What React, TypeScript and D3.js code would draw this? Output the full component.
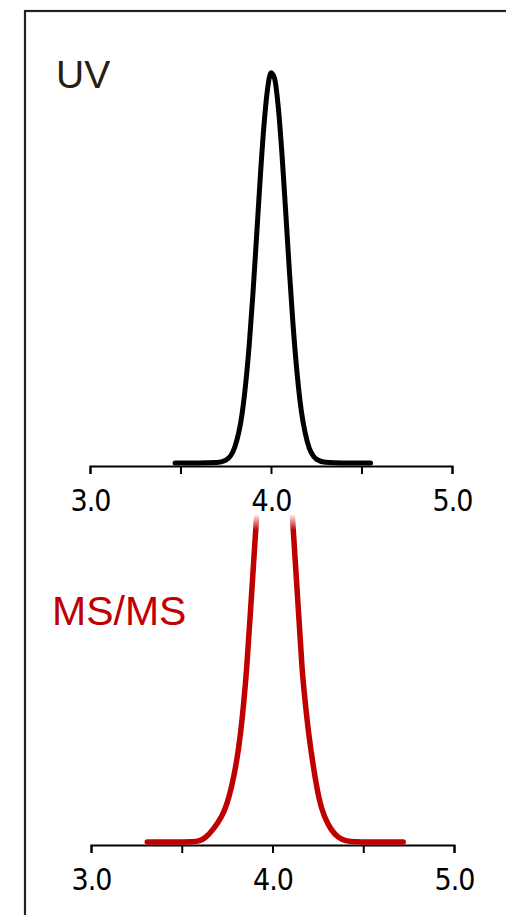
import { useEffect, useRef } from "react";
import * as d3 from "d3";

// retention time (min) and relative intensity (%)
const uvTime = [3.47, 3.6, 3.7, 3.75, 3.8, 3.84, 3.88, 3.9, 3.92, 3.94, 3.96, 3.98, 4.0, 4.02, 4.04, 4.06, 4.08, 4.1, 4.12, 4.16, 4.2, 4.25, 4.3, 4.4, 4.55];
const uvValue = [0, 0, 0.1, 0.7, 4.1, 12.5, 30.4, 43.2, 57.7, 72.5, 85.7, 95.3, 99.8, 98.3, 91.1, 79.4, 65.1, 50.3, 36.5, 16.0, 5.5, 1.0, 0.2, 0, 0];

const msTime = [3.31, 3.5, 3.56, 3.6, 3.63, 3.672, 3.722, 3.758, 3.799, 3.825, 3.843, 3.857, 3.876, 3.909, 3.956, 3.984, 4.011, 4.039, 4.066, 4.113, 4.146, 4.163, 4.179, 4.198, 4.225, 4.256, 4.285, 4.322, 4.364, 4.4, 4.46, 4.52, 4.72];
const msValue = [0, 0, 0, 0.2, 0.8, 2.4, 5.0, 8.3, 14.9, 21.7, 28.2, 34, 44, 64, 85, 96, 100, 96, 85, 64, 44, 34, 28.2, 21.7, 14.9, 8.3, 5.0, 2.4, 0.8, 0.2, 0, 0, 0];

const tickValues = [3.0, 3.5, 4.0, 4.5, 5.0];
const tickLabels = ["3.0", "", "4.0", "", "5.0"];

const W = 506;
const H = 915;

function App() {
  const topAxisRef = useRef<SVGGElement>(null);
  const botAxisRef = useRef<SVGGElement>(null);

  const xTop = d3.scaleLinear().domain([3, 5]).range([90, 452]);
  const xBot = d3.scaleLinear().domain([3, 5]).range([91, 454]);
  const yUV = d3.scaleLinear().domain([0, 100]).range([463, 72]);
  const yMS = d3.scaleLinear().domain([0, 100]).range([842, 339]);

  const uvLine = d3
    .line<number>()
    .x((_, i) => xTop(uvTime[i]))
    .y((d) => yUV(d))
    .curve(d3.curveMonotoneX);

  const msLine = d3
    .line<number>()
    .x((_, i) => xBot(msTime[i]))
    .y((d) => yMS(d))
    .curve(d3.curveBasis);

  useEffect(() => {
    const draw = (el: SVGGElement | null, x: d3.ScaleLinear<number, number>) => {
      if (!el) return;
      const g = d3.select(el);
      g.selectAll("*").remove();
      g.call(
        d3
          .axisBottom(x)
          .tickValues(tickValues)
          .tickFormat((_, i) => tickLabels[i])
          .tickSize(8)
          .tickSizeOuter(8)
      );
      g.select(".domain").attr("stroke", "#000").attr("stroke-width", 2);
      g.selectAll(".tick line").attr("stroke", "#000").attr("stroke-width", 2);
      g.selectAll(".tick text")
        .attr("y", 45)
        .attr("dy", 0)
        .attr("fill", "#000")
        .style("font-family", "'DejaVu Sans Condensed', 'DejaVu Sans', sans-serif")
        .style("font-stretch", "condensed")
        .style("letter-spacing", "-1px")
        .style("font-size", "30px");
    };
    draw(topAxisRef.current, xTop);
    draw(botAxisRef.current, xBot);
  }, []);

  return (
    <svg
      width={W}
      height={H}
      style={{ position: "absolute", left: 0, top: 0, background: "#fff" }}
    >
      <defs>
        <clipPath id="msClip">
          <rect x={0} y={514} width={W} height={H - 514} />
        </clipPath>
        <linearGradient id="fade" x1="0" y1="0" x2="0" y2="1">
          <stop offset="0" stopColor="#fff" stopOpacity={1} />
          <stop offset="1" stopColor="#fff" stopOpacity={0} />
        </linearGradient>
      </defs>

      <rect x={25} y={11} width={W + 20} height={H + 20} fill="none" stroke="#222" strokeWidth={2.2} />

      <text x={56} y={88} fontFamily="'Liberation Sans', Arial, sans-serif" fontSize={39} fill="#2b1d0e">
        UV
      </text>
      <text x={52} y={625} fontFamily="'Liberation Sans', Arial, sans-serif" fontSize={41} fill="#c00000">
        MS/MS
      </text>

      <g ref={topAxisRef} transform="translate(0,466)" />
      <path d={uvLine(uvValue) ?? ""} fill="none" stroke="#000" strokeWidth={5} strokeLinecap="round" strokeLinejoin="round" />

      <g ref={botAxisRef} transform="translate(0,845)" />
      <g clipPath="url(#msClip)">
        <path d={msLine(msValue) ?? ""} fill="none" stroke="#c00000" strokeWidth={5.5} strokeLinecap="round" strokeLinejoin="round" />
      </g>
      <rect x={200} y={514} width={140} height={16} fill="url(#fade)" />
    </svg>
  );
}

export default App;
